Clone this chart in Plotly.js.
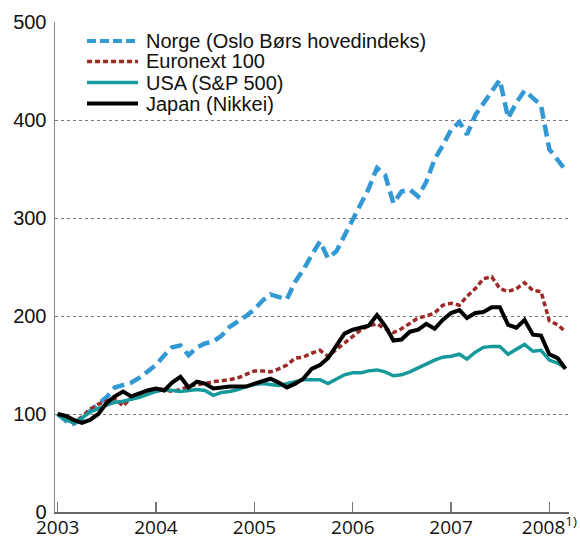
<!DOCTYPE html>
<html>
<head>
<meta charset="utf-8">
<script src="https://cdn.plot.ly/plotly-3.0.1.min.js"></script>
<style>
  html, body { margin: 0; padding: 0; background: #fff; }
  #chart { width: 580px; height: 540px; }
</style>
</head>
<body>
<div id="chart"></div>
<script>
// Stock indices, January 2003 = 100, monthly Jan 2003 - Mar 2008

const seriesNames = ['Norge (Oslo Børs hovedindeks)', 'Euronext 100', 'USA (S&P 500)', 'Japan (Nikkei)'];

const norge = [
    100, 93, 90, 95, 103, 110, 117, 127, 130, 132, 137, 143,
    150, 160, 168, 170, 160, 168, 172, 174, 180, 189, 194, 200,
    207, 216, 222, 220, 217, 235, 247, 262, 276, 259, 266, 282,
    298, 314, 330, 351, 344, 315, 327, 329, 322, 337, 360, 374,
    390, 398, 385, 405, 417, 428, 441, 402, 418, 430, 422, 415,
    370, 360, 349
];

const euronext = [
    100, 95, 91, 97, 105, 110, 113, 116, 108, 117, 120, 124,
    126, 125, 123, 125, 128, 130, 131, 133, 134, 135, 137, 140,
    144, 144, 143, 146, 150, 157, 158, 162, 165, 159, 166, 173,
    180, 186, 190, 192, 187, 183, 187, 193, 198, 200, 203, 211,
    213, 211, 220, 228, 238, 240, 228, 225, 228, 234, 226, 225,
    195, 191, 184
];

const usa = [
    100, 94, 91, 96, 102, 106, 109, 112, 113, 115, 117, 120,
    123, 125, 124, 123, 124, 125, 124, 119, 122, 123, 125, 128,
    130, 131, 130, 129, 131, 133, 135, 135, 135, 131, 136, 140,
    142, 142, 144, 145, 143, 139, 140, 143, 147, 151, 155, 158,
    159, 161, 156, 163, 168, 169, 169, 161, 166, 171, 164, 165,
    155, 152, 147
];

const japan = [
    100, 98, 94, 91, 94, 100, 111, 118, 123, 118, 121, 124,
    126, 124, 132, 138, 127, 133, 131, 126, 127, 128, 128, 128,
    131, 134, 136, 132, 127, 131, 136, 146, 150, 157, 170, 182,
    186, 188, 190, 201, 190, 175, 176, 184, 186, 192, 187, 196,
    203, 206, 198, 203, 204, 209, 209, 191, 188, 196, 181, 180,
    161, 157, 146
];

const years = [2003, 2004, 2005, 2006, 2007, 2008];
const yearLabels = ['2003', '2004', '2005', '2006', '2007', '2008<sup>1)</sup>'];

// first day of each month, Jan 2003 onwards
const months = norge.map(function(v, i) {
    const y = 2003 + Math.floor(i / 12);
    const m = (i % 12) + 1;
    return y + '-' + (m < 10 ? '0' + m : m) + '-01';
});

const lineStyles = [
    { color: '#3399d4', width: 4.5, dash: '12px,6px' },
    { color: '#9c2a26', width: 3.5, dash: '5px,3px' },
    { color: '#15999b', width: 3.5 },
    { color: '#000000', width: 4 }
];

const traces = [norge, euronext, usa, japan].map(function(vals, i) {
    return {
        x: months, y: vals, name: seriesNames[i],
        type: 'scatter', mode: 'lines',
        line: lineStyles[i]
    };
});

// hand-made legend, the built-in one spaces rows too far apart
const W = 514, H = 490, L = 55, T = 22;
const px = function(x) { return (x - L) / W; };
const py = function(y) { return (T + H - y) / H; };
const legendRows = [41, 61.5, 82.5, 103.5];

const shapes = [];
const annotations = [];
legendRows.forEach(function(r, i) {
    const st = lineStyles[i];
    shapes.push({
        type: 'line', xref: 'paper', yref: 'paper',
        x0: px(87), x1: px(138), y0: py(r), y1: py(r),
        line: { color: st.color, width: i === 0 ? 4 : st.width, dash: i === 0 ? '9px,4px' : st.dash }
    });
    annotations.push({
        xref: 'paper', yref: 'paper',
        x: px(144), y: py(r),
        xanchor: 'left', yanchor: 'middle',
        text: seriesNames[i],
        showarrow: false,
        font: { family: 'Liberation Sans, Arial, sans-serif', size: 20, color: '#111' }
    });
});

const layout = {
    width: 580,
    height: 540,
    margin: { l: L, r: 580 - L - W, t: T, b: 540 - T - H },
    paper_bgcolor: '#fff',
    plot_bgcolor: '#fff',
    showlegend: false,
    shapes: shapes,
    annotations: annotations,
    xaxis: {
        type: 'date',
        range: ['2002-12-22', '2008-03-14'],
        tickmode: 'array',
        tickvals: years.map(function(y) { return y + '-01-01'; }),
        ticktext: yearLabels,
        ticks: 'inside',
        ticklen: 10,
        tickwidth: 1.2,
        tickcolor: '#777',
        showline: true,
        linecolor: '#666',
        linewidth: 1.5,
        showgrid: false,
        zeroline: false,
        automargin: false,
        ticklabelstandoff: -2,
        tickfont: { family: 'Open Sans, Liberation Sans, sans-serif', size: 19, color: '#111' }
    },
    yaxis: {
        range: [0, 500],
        tickvals: [0, 100, 200, 300, 400, 500],
        ticks: '',
        showline: true,
        linecolor: '#888',
        linewidth: 1.5,
        showgrid: true,
        gridcolor: '#777',
        gridwidth: 1,
        griddash: 'dot',
        zeroline: false,
        automargin: false,
        ticklabelstandoff: 3,
        tickfont: { family: 'Liberation Sans, Arial, sans-serif', size: 20, color: '#111' }
    }
};

Plotly.newPlot('chart', traces, layout, { staticPlot: true, displayModeBar: false });
</script>
</body>
</html>
